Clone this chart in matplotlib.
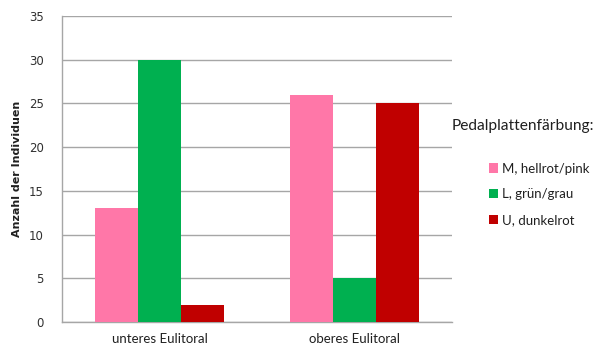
import matplotlib
matplotlib.use("Agg")
import matplotlib.pyplot as plt
from matplotlib.patches import Patch
import numpy as np

categories = ["unteres Eulitoral", "oberes Eulitoral"]
series_names = ["M, hellrot/pink", "L, grün/grau", "U, dunkelrot"]
series_values = [
    [13, 26],  # M
    [30, 5],   # L
    [2, 25],   # U
]
colors = ["#FF77A8", "#00B050", "#C00000"]
y_ticks = [0, 5, 10, 15, 20, 25, 30, 35]

W, H = 601, 347
fig = plt.figure(figsize=(W / 100, H / 100), dpi=100)
ax = fig.add_axes([62 / W, (H - 322) / H, 390 / W, 306 / H])

x = np.arange(len(categories))
bw = 0.2222
for i, (vals, col) in enumerate(zip(series_values, colors)):
    ax.bar(x + (i - 1) * bw, vals, width=bw, color=col, zorder=3, linewidth=0)

ax.set_xlim(-0.5, len(categories) - 0.5)
ax.set_ylim(0, 35)
ax.set_yticks(y_ticks)
ax.set_xticks(x)
ax.set_xticklabels(categories, fontfamily="Lato", fontsize=9.5, color="#202020")
ax.tick_params(axis="x", length=0, pad=8)
ax.tick_params(axis="y", length=0, pad=13, labelsize=8.5, labelcolor="#303030")
for lbl in ax.get_yticklabels():
    lbl.set_fontfamily("DejaVu Sans")

ax.yaxis.grid(True, color="#A6A6A6", linewidth=1.0, zorder=0)
for s in ["top", "right"]:
    ax.spines[s].set_visible(False)
for s in ["left", "bottom"]:
    ax.spines[s].set_color("#A6A6A6")
    ax.spines[s].set_linewidth(1.0)

ax.set_ylabel("Anzahl der Individuen", fontsize=8, fontweight="bold",
              fontfamily="DejaVu Sans", color="#202020")
ax.yaxis.set_label_coords(-40 / 390, 0.5)

fig.text(452 / W, 1 - 126 / H, "Pedalplattenfärbung:", fontfamily="Lato",
         fontsize=11.2, color="#202020", va="center", ha="left")

handles = [Patch(facecolor=c, edgecolor="none") for c in colors]
leg = fig.legend(handles, series_names, loc="upper left",
                 bbox_to_anchor=(482 / W, 1 - 156 / H), frameon=False,
                 prop={"family": "Lato", "size": 9.5},
                 handlelength=0.7, handleheight=0.7, handletextpad=0.3,
                 labelspacing=1.05, borderpad=0)
for t in leg.get_texts():
    t.set_color("#202020")

fig.savefig("out.png", dpi=100)
